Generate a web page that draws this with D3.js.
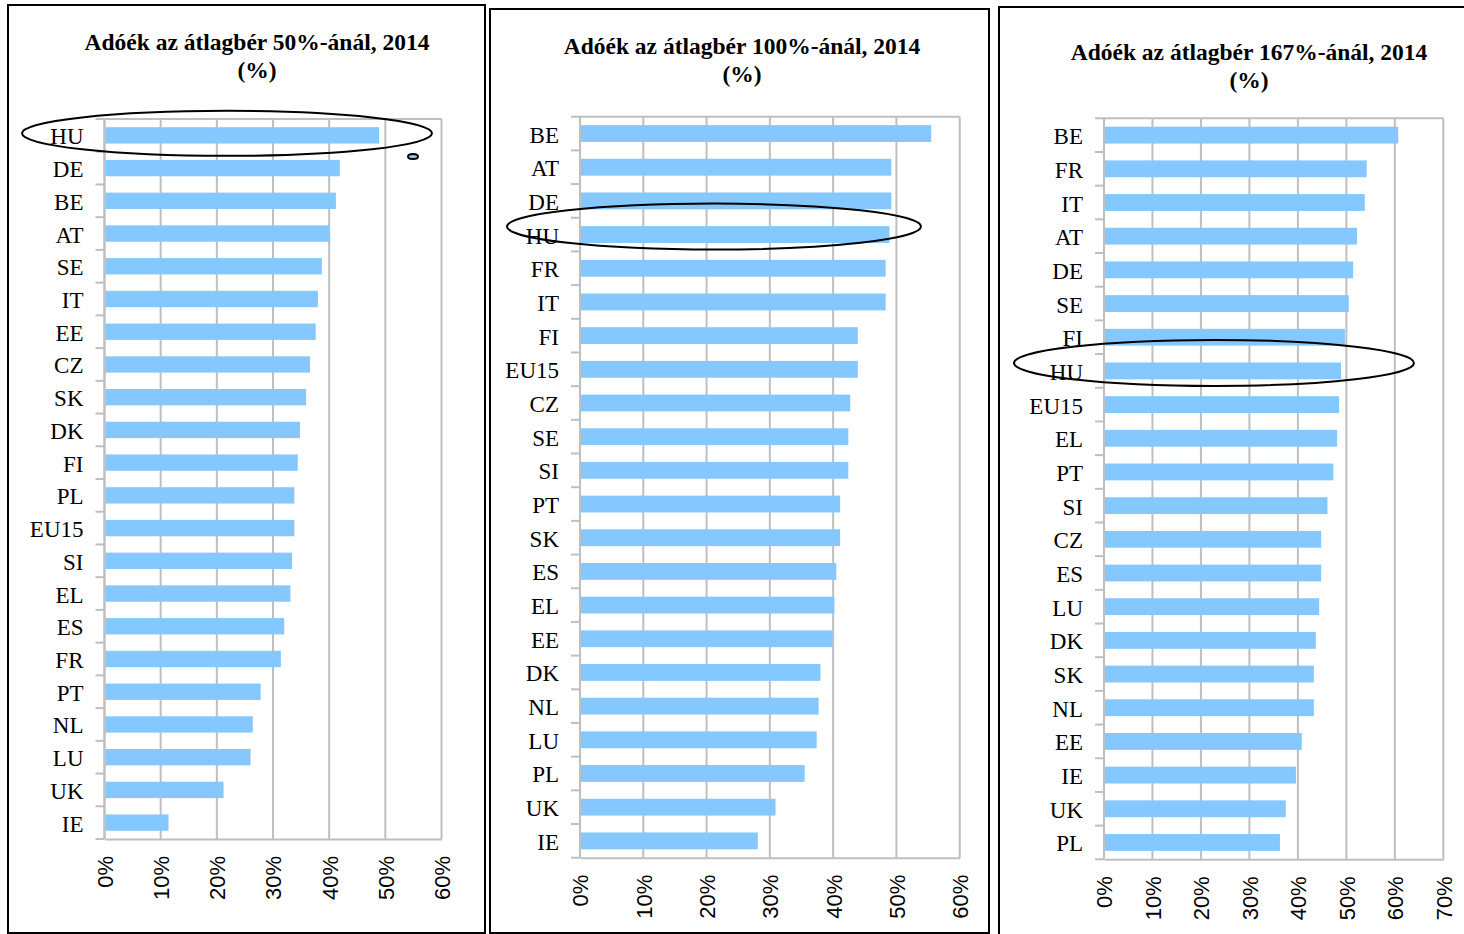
<!DOCTYPE html>
<html>
<head>
<meta charset="utf-8">
<script src="https://cdn.jsdelivr.net/npm/d3@7"></script>
<style>
  body { margin: 0; background: white; }
  svg { display: block; }
</style>
</head>
<body>
<svg id="chart" width="1464" height="934"></svg>
<script>
// chart data
const titles = [
    "Adóék az átlagbér 50%-ánál, 2014",
    "Adóék az átlagbér 100%-ánál, 2014",
    "Adóék az átlagbér 167%-ánál, 2014"
];
const subtitle = "(%)";

const countries_50 = ["HU","DE","BE","AT","SE","IT","EE","CZ","SK","DK","FI","PL","EU15","SI","EL","ES","FR","PT","NL","LU","UK","IE"];
const values_50 = [48.9, 41.9, 41.2, 40.1, 38.7, 38.0, 37.6, 36.6, 35.9, 34.8, 34.4, 33.8, 33.8, 33.4, 33.1, 32.0, 31.4, 27.8, 26.4, 26.0, 21.2, 11.4];

const countries_100 = ["BE","AT","DE","HU","FR","IT","FI","EU15","CZ","SE","SI","PT","SK","ES","EL","EE","DK","NL","LU","PL","UK","IE"];
const values_100 = [55.5, 49.2, 49.2, 48.9, 48.3, 48.3, 43.9, 43.9, 42.7, 42.4, 42.4, 41.1, 41.1, 40.5, 40.2, 39.9, 38.0, 37.7, 37.4, 35.5, 30.9, 28.1];

const countries_167 = ["BE","FR","IT","AT","DE","SE","FI","HU","EU15","EL","PT","SI","CZ","ES","LU","DK","SK","NL","EE","IE","UK","PL"];
const values_167 = [60.7, 54.2, 53.8, 52.2, 51.4, 50.5, 49.7, 48.9, 48.5, 48.1, 47.3, 46.1, 44.8, 44.8, 44.4, 43.7, 43.3, 43.3, 40.8, 39.6, 37.5, 36.3];

const x_ticks_1 = [0, 10, 20, 30, 40, 50, 60];
const x_ticks_3 = [0, 10, 20, 30, 40, 50, 60, 70];

const highlight = "HU";

// layout of the three panels
const panels = [
    { title: titles[0], countries: countries_50, values: values_50, ticks: x_ticks_1,
      frame: [8, 5, 477, 928], plot: [104.5, 119, 441.5, 839],
      title_x: 257, title_y: [50, 78],
      ring: { dx: 122.5, dy: -2, rx: 205, ry: 22.5 }, dot: { x: 413, y: 156.5 } },
    { title: titles[1], countries: countries_100, values: values_100, ticks: x_ticks_1,
      frame: [490, 9, 499, 924], plot: [580, 116.7, 959.7, 857.7],
      title_x: 742, title_y: [54, 82],
      ring: { dx: 134, dy: -8, rx: 207, ry: 23 } },
    { title: titles[2], countries: countries_167, values: values_167, ticks: x_ticks_3,
      frame: [999, 7, 480, 940], plot: [1104, 118.3, 1443.3, 859.3],
      title_x: 1249, title_y: [60, 88],
      ring: { dx: 110, dy: -8, rx: 200, ry: 23 } }
];

const bar_color = "#85c8ff";
const grid_color = "#bfbfbf";
const serif = "'Liberation Serif', 'Times New Roman', serif";
const sans = "'Liberation Sans', Arial, sans-serif";

function draw_panel(svg, p) {
    const [left, top, right, bottom] = p.plot;
    const g = svg.append("g");

    g.append("rect")
        .attr("x", p.frame[0]).attr("y", p.frame[1])
        .attr("width", p.frame[2]).attr("height", p.frame[3])
        .attr("fill", "white")
        .attr("stroke", "black")
        .attr("stroke-width", 2);

    const x = d3.scaleLinear()
        .domain([0, d3.max(p.ticks)])
        .range([left, right]);

    const y = d3.scaleBand()
        .domain(p.countries)
        .range([top, bottom])
        .paddingInner(0.5)
        .paddingOuter(0.25);

    // grid lines
    g.append("g")
        .selectAll("line")
        .data(p.ticks)
        .enter().append("line")
        .attr("x1", d => x(d)).attr("x2", d => x(d))
        .attr("y1", top).attr("y2", bottom)
        .attr("stroke", grid_color)
        .attr("stroke-width", 2);

    // plot border top
    g.append("line")
        .attr("x1", left).attr("x2", right)
        .attr("y1", top).attr("y2", top)
        .attr("stroke", grid_color).attr("stroke-width", 2);

    // bars
    g.append("g")
        .selectAll("rect")
        .data(p.countries)
        .enter().append("rect")
        .attr("x", x(0) + 1)
        .attr("y", d => y(d))
        .attr("width", (d, i) => x(p.values[i]) - x(0) - 1)
        .attr("height", y.bandwidth())
        .attr("fill", bar_color);

    // x axis
    const x_axis = g.append("g")
        .attr("transform", `translate(0,${bottom})`)
        .call(d3.axisBottom(x).tickValues(p.ticks).tickSize(0).tickFormat(d => d + "%"));
    x_axis.select(".domain")
        .attr("stroke", grid_color).attr("stroke-width", 2);
    x_axis.selectAll("text")
        .attr("font-family", sans)
        .attr("font-size", 22)
        .attr("fill", "black")
        .attr("text-anchor", "end")
        .attr("transform", "rotate(-90)")
        .attr("x", -17)
        .attr("y", 0)
        .attr("dy", "0.36em");

    // y axis: ticks between categories
    const step = y.step();
    const bounds = d3.range(p.countries.length + 1).map(i => top + i * step);
    g.append("line")
        .attr("x1", left).attr("x2", left)
        .attr("y1", top).attr("y2", bottom)
        .attr("stroke", grid_color).attr("stroke-width", 2);
    g.append("g")
        .selectAll("line")
        .data(bounds)
        .enter().append("line")
        .attr("x1", left - 9).attr("x2", left)
        .attr("y1", d => d).attr("y2", d => d)
        .attr("stroke", grid_color).attr("stroke-width", 2);

    g.append("g")
        .selectAll("text")
        .data(p.countries)
        .enter().append("text")
        .attr("x", left - 21)
        .attr("y", d => y(d) + y.bandwidth() / 2 + 9)
        .attr("text-anchor", "end")
        .attr("font-family", serif)
        .attr("font-size", 23)
        .attr("fill", "black")
        .text(d => d);

    // title
    const title = g.append("text")
        .attr("text-anchor", "middle")
        .attr("font-family", serif)
        .attr("font-weight", "bold")
        .attr("font-size", 23.5)
        .attr("fill", "black");
    title.append("tspan").attr("x", p.title_x).attr("y", p.title_y[0]).text(p.title);
    title.append("tspan").attr("x", p.title_x).attr("y", p.title_y[1]).text(subtitle);

    // ring round Hungary
    const cy = y(highlight) + y.bandwidth() / 2;
    g.append("ellipse")
        .attr("cx", left + p.ring.dx)
        .attr("cy", cy + p.ring.dy)
        .attr("rx", p.ring.rx)
        .attr("ry", p.ring.ry)
        .attr("fill", "none")
        .attr("stroke", "black")
        .attr("stroke-width", 2);

    if (p.dot) {
        g.append("ellipse")
            .attr("cx", p.dot.x).attr("cy", p.dot.y)
            .attr("rx", 5).attr("ry", 2.5)
            .attr("fill", bar_color)
            .attr("stroke", "black")
            .attr("stroke-width", 2);
    }
}

const svg = d3.select("#chart");
panels.forEach(p => draw_panel(svg, p));
</script>
</body>
</html>
